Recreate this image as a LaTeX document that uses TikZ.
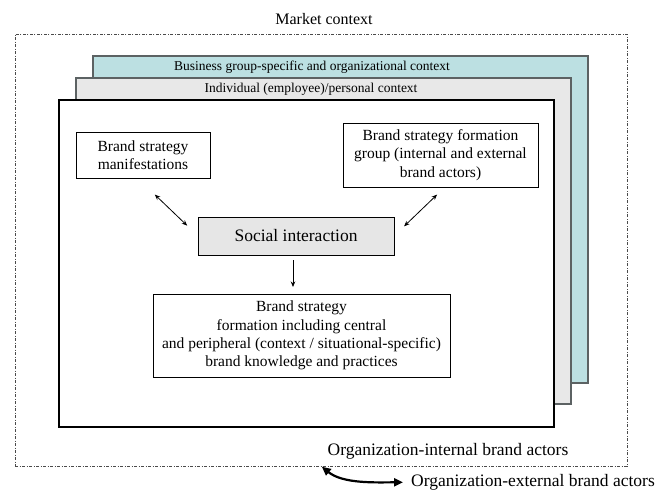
\documentclass[tikz,border=0pt]{standalone}
\usepackage{fontspec}
\setmainfont{Liberation Serif}
\usetikzlibrary{arrows.meta,calc}
\definecolor{bizteal}{HTML}{BCE0E2}
\definecolor{persgray}{HTML}{E8E8E8}
\definecolor{socgray}{HTML}{E6E6E6}
\definecolor{edgegray}{HTML}{5C6263}
\definecolor{dotgray}{HTML}{4A4A4A}
\begin{document}
\begin{tikzpicture}[x=1pt,y=-1pt,
  layer/.style={draw=edgegray, line width=1.6pt, outer sep=0pt, inner sep=0pt,
    anchor=north west, minimum width=495},
  corebox/.style={draw=black, line width=1.1pt, fill=white, outer sep=0pt,
    inner sep=0pt, anchor=north west, minimum width=495, minimum height=327},
  marketbox/.style={draw=dotgray, line width=0.9pt,
    dash pattern=on 3pt off 1.5pt on 1pt off 1.5pt, outer sep=0pt, inner sep=0pt,
    anchor=north west, minimum width=612, minimum height=432},
  bandlabel/.style={font=\fontsize{13.5}{16}\selectfont, inner sep=0pt},
  textbox/.style={draw=black, line width=0.9pt, fill=white, align=center,
    inner sep=0pt, outer sep=0pt, font=\fontsize{15.5}{18.3}\selectfont},
  biglabel/.style={font=\fontsize{17.5}{20}\selectfont, inner sep=0pt},
  link/.style={line width=0.8pt,
    {Stealth[length=5.5pt,width=4.5pt]}-{Stealth[length=5.5pt,width=4.5pt]}},
  flow/.style={line width=0.8pt, -{Stealth[length=5.5pt,width=4.5pt]}},
  boundary/.style={line width=2.2pt,
    {Triangle[length=9pt,width=8pt]}-{Triangle[length=9pt,width=8pt]}}
]
\useasboundingbox (0,0) rectangle (666,491);

% nested context layers, back to front
\node[marketbox] (market) at (15,34) {};
\node[layer, fill=bizteal, minimum height=327] (biz) at (93,56) {};
\node[layer, fill=persgray, minimum height=326] (pers) at (76,78) {};
\node[corebox] (core) at (59,100) {};

\node[font=\fontsize{16}{19}\selectfont, inner sep=0pt, anchor=base] (marketlabel)
  at (324,24) {Market context};
\node[bandlabel] (bizlabel) at (312,67) {Business group-specific and organizational context};
\node[bandlabel] (perslabel) at (311,89) {Individual (employee)/personal context};

% boxes inside the core layer
\node[textbox, minimum width=134, minimum height=46] (manif) at (143,155)
  {Brand strategy\\manifestations};
\node[textbox, minimum width=195, minimum height=64] (group) at (440.5,155)
  {Brand strategy formation\\group (internal and external\\brand actors)};
\node[textbox, fill=socgray, font=\fontsize{17.5}{20}\selectfont,
  minimum width=196, minimum height=38] (social) at (296,236) {Social interaction};
\node[textbox, minimum width=297, minimum height=83] (formation) at (301.5,335.5)
  {Brand strategy\\formation including central\\and peripheral (context / situational-specific)\\brand knowledge and practices};

% actor labels
\node[biglabel, anchor=base] (internal) at (448,455) {Organization-internal brand actors};
\node[biglabel, anchor=base west] (external) at (411,486.5) {Organization-external brand actors};

% interactions
\draw[link, shorten <=24pt, shorten >=15pt] ($(manif.south)+(-5.5,0)$) -- (social.west);
\draw[link, shorten <=11pt, shorten >=14pt] ($(group.south)+(4.5,0)$) -- (social.east);
\draw[flow, shorten <=5pt, shorten >=7pt] ($(social.south)+(-3,0)$)
  -- ($(social.south |- formation.north)+(-3,0)$);
\draw[boundary, shorten <=1pt, shorten >=8pt] (market.south)
  .. controls +(22,18) and +(-35,0) .. (external.west);
\end{tikzpicture}
\end{document}
